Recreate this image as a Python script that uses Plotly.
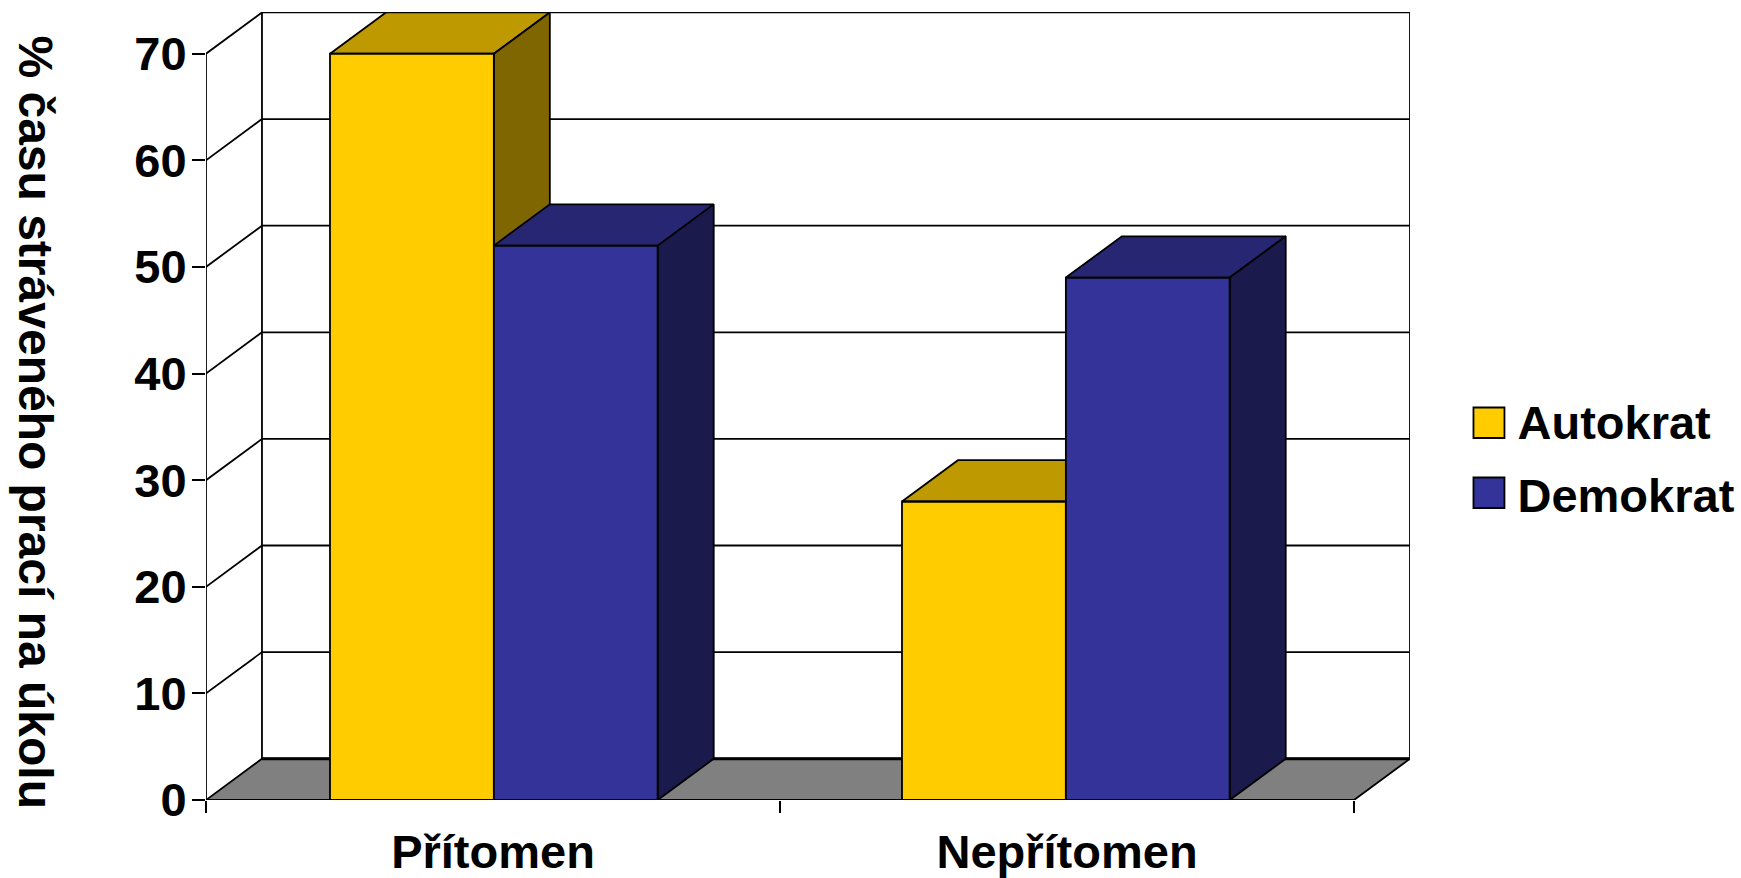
import plotly.graph_objects as go

categories = ["Přítomen", "Nepřítomen"]
autokrat = [70, 28]
demokrat = [52, 49]
y_ticks = [0, 10, 20, 30, 40, 50, 60, 70]
series_names = ["Autokrat", "Demokrat"]
y_title = "% času stráveného prací na úkolu"

W, H = 1741, 878
L, R, T, B = 205.5, 1410.0, 12.0, 800.0
DX = 0.0975   # depth in category units
DY = 3.87     # depth in value units
BAR_W = 0.2855
GROUP_X = [0.5015, 1.498]
FONT = "Liberation Sans"
FS = 47
LW = 1.8


def closed(xs, ys):
    return xs + [xs[0]], ys + [ys[0]]


def poly(xs, ys, fill, xa, ya, width=LW, mode="lines"):
    cx, cy = closed(xs, ys)
    return go.Scatter(x=cx, y=cy, mode=mode, fill="toself", fillcolor=fill,
                      line=dict(color="black", width=width), showlegend=False,
                      hoverinfo="skip", cliponaxis=False, xaxis=xa, yaxis=ya)


def segs(pairs, xa="x", ya="y", width=LW):
    xs, ys = [], []
    for (x0, y0), (x1, y1) in pairs:
        xs += [x0, x1, None]
        ys += [y0, y1, None]
    return go.Scatter(x=xs, y=ys, mode="lines", line=dict(color="black", width=width),
                      showlegend=False, hoverinfo="skip", cliponaxis=False, xaxis=xa, yaxis=ya)


def series(name, values, offset, front, top, side, xa, ya):
    out = [go.Bar(x=GROUP_X, y=values, width=BAR_W, offset=offset, name=name,
                  marker=dict(color=front, line=dict(width=0)), xaxis=xa, yaxis=ya,
                  legendgroup=name, hovertemplate="%{y}<extra>" + name + "</extra>")]
    for i, v in enumerate(values):
        x0 = GROUP_X[i] + offset
        x1 = x0 + BAR_W
        out.append(poly([x0, x0 + DX, x1 + DX, x1], [v, v + DY, v + DY, v], top, xa, ya))
        out.append(poly([x1, x1 + DX, x1 + DX, x1], [v, v + DY, DY, 0], side, xa, ya))
        out.append(poly([x0, x1, x1, x0], [0, 0, v, v], "rgba(0,0,0,0)", xa, ya))
    return out


top_v = y_ticks[-1]
traces = []
# back walls, diagonals, gridlines
traces.append(segs([((DX, t + DY), (2 + DX, t + DY)) for t in y_ticks[1:]]))
traces.append(segs([((0, t), (DX, t + DY)) for t in y_ticks[1:]]))
traces.append(segs([((DX, DY), (DX, top_v + DY)), ((2 + DX, DY), (2 + DX, top_v + DY)),
                    ((0, 0), (0, top_v))]))
# floor
traces.append(poly([0, DX, 2 + DX, 2], [0, DY, DY, 0], "#808080", "x", "y", width=LW))
traces.append(segs([((DX, DY), (2 + DX, DY))], width=3))

traces += series(series_names[0], autokrat, -BAR_W, "#FFCC00", "#BF9900", "#806600", "x2", "y2")
traces += series(series_names[1], demokrat, 0, "#333399", "#262673", "#1A1A4D", "x3", "y3")

fig = go.Figure(traces)

xr = [0, (R - L) / ((1354.0 - L) / 2)]
yr = [0, (B - T) / ((B - 53.7) / 70)]
hidden = dict(visible=False, range=xr, fixedrange=True)
hiddeny = dict(visible=False, range=yr, fixedrange=True)


def px(x):
    return (x - L) / (R - L)


def py(y):
    return (B - y) / (B - T)


font = dict(family=FONT, size=FS, color="black", weight="bold")
shapes = []
for color, y0, y1 in [("#FFCC00", 407.5, 438), ("#333399", 477.5, 508)]:
    shapes.append(dict(type="rect", xref="paper", yref="paper", x0=px(1473.5), x1=px(1504.5),
                       y0=py(y1), y1=py(y0), fillcolor=color, line=dict(color="black", width=1.8)))

fig.update_layout(
    width=W, height=H,
    margin=dict(l=L, r=W - R, t=T, b=H - B, pad=0, autoexpand=False),
    paper_bgcolor="white", plot_bgcolor="white",
    font=font,
    bargap=0,
    xaxis=dict(range=xr, tickmode="array", tickvals=[0.5, 1.5], ticktext=categories,
               showgrid=False, zeroline=False, showline=False, ticks="", tickfont=font,
               ticklabelstandoff=20, fixedrange=True,
               minor=dict(tickmode="array", tickvals=[0, 1, 2], ticks="outside", ticklen=12,
                          tickwidth=LW, tickcolor="black", showgrid=False)),
    yaxis=dict(range=yr, tickmode="array", tickvals=y_ticks, showgrid=False, zeroline=False,
               showline=False, ticks="outside", ticklen=13, tickwidth=LW, tickcolor="black",
               tickfont=font, ticklabelstandoff=-4, fixedrange=True),
    xaxis2=dict(overlaying="x", anchor="y2", **hidden),
    yaxis2=dict(overlaying="y", anchor="x2", **hiddeny),
    xaxis3=dict(overlaying="x", anchor="y3", **hidden),
    yaxis3=dict(overlaying="y", anchor="x3", **hiddeny),
    shapes=shapes,
    legend=dict(x=px(1467.5), y=py(384), xanchor="left", yanchor="top", font=font,
                bgcolor="rgba(0,0,0,0)", itemwidth=40, tracegroupgap=9,
                traceorder="grouped", itemclick=False, itemdoubleclick=False),
    annotations=[dict(text=y_title, xref="paper", yref="paper", x=px(35), y=py(422),
                      xanchor="center", yanchor="middle", showarrow=False, textangle=90,
                      font=dict(family=FONT, size=48, color="black", weight="bold"))],
    showlegend=True,
)

fig.write_html("out.html", config=dict(displayModeBar=False),
               post_script="document.body.style.margin='0';document.body.style.overflow='hidden';")
